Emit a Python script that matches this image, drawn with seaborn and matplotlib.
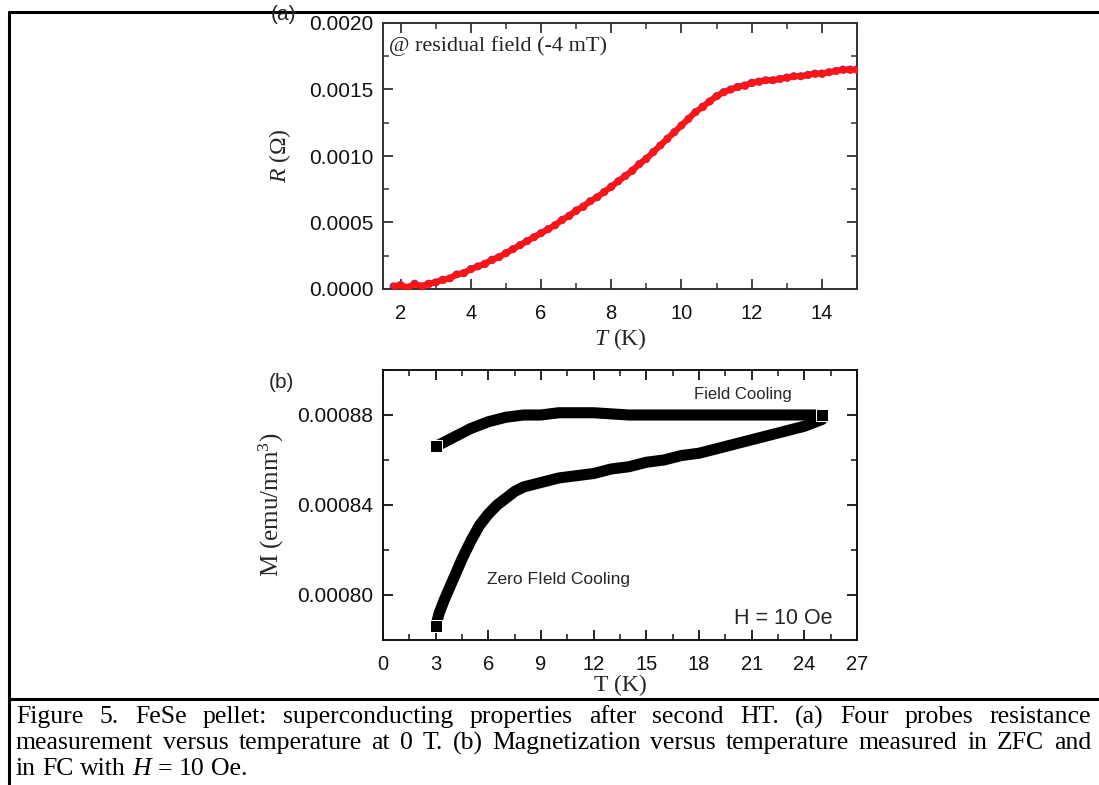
import numpy as np
import pandas as pd
import matplotlib
matplotlib.use("Agg")
import matplotlib.pyplot as plt
import seaborn as sns
from matplotlib.ticker import MultipleLocator, FormatStrFormatter
from matplotlib.lines import Line2D

# ---------------- data ----------------
T_a = [1.8, 2.0, 2.2, 2.4, 2.6, 2.8, 3.0, 3.2, 3.4, 3.6, 3.8, 4.0, 4.2, 4.4, 4.6,
       4.8, 5.0, 5.2, 5.4, 5.6, 5.8, 6.0, 6.2, 6.4, 6.6, 6.8, 7.0, 7.2, 7.4, 7.6,
       7.8, 8.0, 8.2, 8.4, 8.6, 8.8, 9.0, 9.2, 9.4, 9.6, 9.8, 10.0, 10.2, 10.4,
       10.6, 10.8, 11.0, 11.2, 11.4, 11.6, 11.8, 12.0, 12.2, 12.4, 12.6, 12.8,
       13.0, 13.2, 13.4, 13.6, 13.8, 14.0, 14.2, 14.4, 14.6, 14.8, 15.0]
R_a = [0.00002, 0.00003, 0.00001, 0.00004, 0.00002, 0.00004, 0.00005, 0.00007,
       0.00008, 0.00011, 0.00012, 0.00015, 0.00017, 0.00019, 0.00022, 0.00024,
       0.00027, 0.00030, 0.00033, 0.00036, 0.00039, 0.00042, 0.00045, 0.00048,
       0.00052, 0.00055, 0.00059, 0.00062, 0.00066, 0.00069, 0.00073, 0.00077,
       0.00081, 0.00085, 0.00089, 0.00094, 0.00098, 0.00103, 0.00108, 0.00113,
       0.00118, 0.00123, 0.00128, 0.00133, 0.00137, 0.00141, 0.00145, 0.00148,
       0.00150, 0.00152, 0.00153, 0.00155, 0.00156, 0.00157, 0.00157, 0.00158,
       0.00159, 0.00160, 0.00160, 0.00161, 0.00162, 0.00162, 0.00163, 0.00164,
       0.00165, 0.00165, 0.00165]

T_zfc = [3.0, 3.2, 3.5, 4.0, 4.5, 5.0, 5.5, 6.0, 6.5, 7.0, 7.5, 8.0, 9.0, 10.0,
         11.0, 12.0, 13.0, 14.0, 15.0, 16.0, 17.0, 18.0, 19.0, 20.0, 21.0, 22.0,
         23.0, 24.0, 25.0]
M_zfc = [0.000786, 0.000792, 0.000798, 0.000807, 0.000816, 0.000824, 0.000831,
         0.000836, 0.000840, 0.000843, 0.000846, 0.000848, 0.000850, 0.000852,
         0.000853, 0.000854, 0.000856, 0.000857, 0.000859, 0.000860, 0.000862,
         0.000863, 0.000865, 0.000867, 0.000869, 0.000871, 0.000873, 0.000875,
         0.000878]

T_fc = [3.0, 3.5, 4.0, 5.0, 6.0, 7.0, 8.0, 9.0, 10.0, 12.0, 14.0, 16.0, 18.0,
        20.0, 22.0, 24.0, 25.0]
M_fc = [0.000866, 0.000868, 0.000870, 0.000874, 0.000877, 0.000879, 0.000880,
        0.000880, 0.000881, 0.000881, 0.000880, 0.000880, 0.000880, 0.000880,
        0.000880, 0.000880, 0.000880]

xticks_a = [2, 4, 6, 8, 10, 12, 14]
yticks_a = [0.0, 0.0005, 0.0010, 0.0015, 0.0020]
xticks_b = [0, 3, 6, 9, 12, 15, 18, 21, 24, 27]
yticks_b = [0.00080, 0.00084, 0.00088]

caption_lines = [
    "Figure 5. FeSe pellet: superconducting properties after second HT. (a) Four probes resistance",
    "measurement versus temperature at 0 T. (b) Magnetization versus temperature measured in ZFC and",
    "in FC with H = 10 Oe.",
]

# ---------------- style ----------------
sns.set_theme(style="ticks")
plt.rcParams['font.family'] = ['Liberation Sans', 'DejaVu Sans']
plt.rcParams['mathtext.fontset'] = 'custom'
plt.rcParams['mathtext.rm'] = 'Liberation Serif'
plt.rcParams['mathtext.it'] = 'Liberation Serif:italic'

W, H = 1099, 785
fig = plt.figure(figsize=(W / 100, H / 100), dpi=100)
fig.patch.set_facecolor('white')


def fx(px):
    return px / W


def fy(py):
    return 1 - py / H


ax_a = fig.add_axes([fx(383), fy(289), fx(857 - 383), (289 - 23) / H])
ax_b = fig.add_axes([fx(383), fy(640), fx(857 - 383), (640 - 370) / H])

# ---------------- panel (a) ----------------
df_a = pd.DataFrame({'T': T_a, 'R': R_a})
sns.scatterplot(data=df_a, x='T', y='R', ax=ax_a, color='#6a3dc0', s=34,
                edgecolor='none', zorder=2, legend=False)
sns.lineplot(data=df_a, x='T', y='R', ax=ax_a, color='#ff1414', lw=4.5,
             marker='o', markersize=4, markeredgecolor='#ff1414', zorder=3,
             sort=False, legend=False)
ax_a.set_xlim(1.5, 15)
ax_a.set_ylim(0, 0.0020)
ax_a.set_xticks(xticks_a)
ax_a.set_yticks(yticks_a)
ax_a.xaxis.set_minor_locator(MultipleLocator(1))
ax_a.yaxis.set_minor_locator(MultipleLocator(0.00025))
ax_a.yaxis.set_major_formatter(FormatStrFormatter('%.4f'))
ax_a.set_xlabel(r'$T$ (K)', fontsize=17, family='Liberation Serif')
ax_a.set_ylabel(r'$R$ ($\Omega$)', fontsize=17, family='Liberation Serif')
ax_a.xaxis.set_label_coords(0.5, -0.14)
ax_a.yaxis.set_label_coords(-0.19, 0.5)
ax_a.text(1.68, 0.00183, '@ residual field (-4 mT)', family='Liberation Serif',
          fontsize=16, va='center', ha='left', color='#222222')

# ---------------- panel (b) ----------------
sns.lineplot(x=T_zfc, y=M_zfc, ax=ax_b, color='black', lw=8, sort=False,
             marker='s', markersize=9, markevery=[0], legend=False)
sns.lineplot(x=T_fc, y=M_fc, ax=ax_b, color='black', lw=8, sort=False,
             marker='s', markersize=9, markevery=[0, len(T_fc) - 1], legend=False)
ax_b.set_xlim(0, 27)
ax_b.set_ylim(0.00078, 0.00090)
ax_b.set_xticks(xticks_b)
ax_b.set_yticks(yticks_b)
ax_b.xaxis.set_minor_locator(MultipleLocator(1.5))
ax_b.yaxis.set_minor_locator(MultipleLocator(0.00002))
ax_b.yaxis.set_major_formatter(FormatStrFormatter('%.5f'))
ax_b.set_xlabel('T (K)', fontsize=17, family='Liberation Serif')
ax_b.set_ylabel(r'M (emu/mm$^{3}$)', fontsize=18, family='Liberation Serif')
ax_b.xaxis.set_label_coords(0.5, -0.13)
ax_b.yaxis.set_label_coords(-0.205, 0.5)
ax_b.text(20.5, 0.000889, 'Field Cooling', fontsize=12, ha='center', va='center')
ax_b.text(10.0, 0.000807, 'Zero FIeld Cooling', fontsize=12.5, ha='center', va='center')
ax_b.text(22.8, 0.0007895, 'H = 10 Oe', fontsize=15.5, ha='center', va='center')

for ax, sc in ((ax_a, '#333333'), (ax_b, '#111111')):
    for s in ax.spines.values():
        s.set_visible(True)
        s.set_color(sc)
        s.set_linewidth(1.4)
    ax.tick_params(which='both', direction='in', top=True, right=True,
                   colors=sc, labelcolor='#111111')
    ax.tick_params(axis='y', labelsize=15, pad=7)
    ax.tick_params(axis='x', labelsize=14.5, pad=11)
    ax.tick_params(which='major', length=7, width=1.3)
    ax.tick_params(which='minor', length=4, width=1.1)
    ax.set_facecolor('white')
    ax.grid(False)

fig.text(fx(283), fy(15), '(a)', fontsize=15, ha='center', va='center')
fig.text(fx(281), fy(383), '(b)', fontsize=15, ha='center', va='center')

# ---------------- frame lines ----------------
lw_frame = 2.2
fig.add_artist(Line2D([fx(8.5), 1.0], [fy(12), fy(12)], color='black', lw=lw_frame))
fig.add_artist(Line2D([fx(8.5), fx(8.5)], [fy(12), 0.0], color='black', lw=lw_frame))
fig.add_artist(Line2D([fx(8.5), 1.0], [fy(699), fy(699)], color='black', lw=lw_frame))

# ---------------- caption (justified) ----------------
renderer = fig.canvas.get_renderer()
cap_fs = 18.5
x_left, x_right = 16, 1091
y_lines = [717, 743, 769]


def text_width(s, style='normal'):
    t = fig.text(0, 0, s, fontsize=cap_fs, family='Liberation Serif', style=style)
    w = t.get_window_extent(renderer).width
    t.remove()
    return w


space_w = text_width('a a') - text_width('aa')

for i, line in enumerate(caption_lines):
    words = line.split(' ')
    styles = ['italic' if (w == 'H' and i == 2) else 'normal' for w in words]
    widths = [text_width(w, st) for w, st in zip(words, styles)]
    if i < 2:
        gap = (x_right - x_left - sum(widths)) / (len(words) - 1)
    else:
        gap = space_w
    x = x_left
    for w, st, wd in zip(words, styles, widths):
        fig.text(fx(x), fy(y_lines[i]), w, fontsize=cap_fs, family='Liberation Serif',
                 style=st, ha='left', va='center', color='black')
        x += wd + gap

fig.savefig('out.png', dpi=100, facecolor='white')
